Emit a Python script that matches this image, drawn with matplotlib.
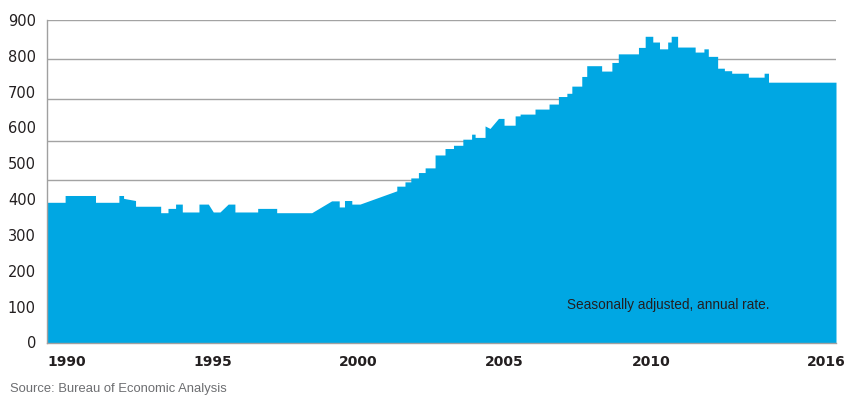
import numpy as np
import matplotlib
matplotlib.use("Agg")
import matplotlib.pyplot as plt

# Outline of the area: each segment runs from breaks[i] to breaks[i+1],
# going from v_start[i] to v_end[i] (flat when both are equal)
breaks = [1990.00, 1990.62, 1991.66, 1992.46, 1992.62, 1993.03, 1993.89, 1994.14,
          1994.40, 1994.63, 1995.20, 1995.52, 1995.69, 1995.92, 1996.20, 1996.43,
          1997.21, 1997.86, 1999.06, 1999.74, 2000.00, 2000.18, 2000.43, 2000.71,
          2001.97, 2002.25, 2002.45, 2002.71, 2002.94, 2003.28, 2003.62, 2003.91,
          2004.23, 2004.53, 2004.65, 2004.99, 2005.16, 2005.45, 2005.64, 2006.02,
          2006.19, 2006.70, 2007.18, 2007.50, 2007.79, 2007.96, 2008.30, 2008.47,
          2008.98, 2009.33, 2009.55, 2010.24, 2010.47, 2010.73, 2010.96, 2011.24,
          2011.36, 2011.58, 2012.18, 2012.48, 2012.63, 2012.95, 2013.18, 2013.43,
          2014.00, 2014.54, 2014.69, 2017.00]
v_start = [391, 410, 391, 410, 402, 380, 362, 374,
           386, 364, 386, 386, 364, 364, 386, 364,
           374, 362, 362, 395, 378, 396, 386, 386,
           436, 448, 459, 474, 487, 523, 541, 550,
           567, 581, 572, 604, 597, 625, 606, 632,
           637, 651, 665, 686, 695, 715, 742, 772,
           757, 781, 805, 823, 854, 838, 819, 838,
           854, 824, 810, 819, 798, 765, 758, 751,
           740, 751, 726]
v_end = [391, 410, 391, 410, 396, 380, 362, 374,
         386, 364, 386, 364, 364, 386, 386, 364,
         374, 362, 395, 395, 378, 396, 386, 423,
         436, 448, 459, 474, 487, 523, 541, 550,
         567, 581, 572, 597, 625, 625, 606, 632,
         637, 651, 665, 686, 695, 715, 742, 772,
         757, 781, 805, 823, 854, 838, 819, 838,
         854, 824, 810, 819, 798, 765, 758, 751,
         740, 751, 726]

year_ticks = [1990, 1995, 2000, 2005, 2010, 2016]
value_ticks = [0, 100, 200, 300, 400, 500, 600, 700, 800, 900]
grid_levels = [452, 561, 679, 790, 900]  # gridlines as drawn in the original

note = "Seasonally adjusted, annual rate."
source = "Source: Bureau of Economic Analysis"

xs = np.repeat(breaks, 2)[1:-1]
ys = np.column_stack([v_start, v_end]).ravel()

fig = plt.figure(figsize=(8.46, 3.98), dpi=100)
ax = fig.add_axes([47 / 846, 55.5 / 398, 789 / 846, 322.7 / 398])

for g in grid_levels:
    ax.axhline(g, color="#a3a3a3", lw=1.0, zorder=0.5)

ax.fill_between(xs, ys, 0, color="#00a7e3", lw=0, zorder=1)

ax.set_xlim(1990, 2017)
ax.set_ylim(0, 900)

ax.set_yticks(value_ticks)
ax.set_yticklabels([str(v) for v in value_ticks], fontsize=10.5, color="#231f20")
ax.set_xticks(year_ticks)
ax.set_xticklabels([str(y) for y in year_ticks], fontsize=10, fontweight="bold",
                   color="#231f20", ha="left")
ax.tick_params(axis="y", length=0, pad=8)
ax.tick_params(axis="x", length=0, pad=9)

for s in ["top", "right"]:
    ax.spines[s].set_visible(False)
for s in ["left", "bottom"]:
    ax.spines[s].set_color("#a0a0a0")
    ax.spines[s].set_linewidth(1.0)
    ax.spines[s].set_zorder(3)

ax.text(2011.25, 105, note, ha="center", va="center", fontsize=9.8,
        color="#231f20", family=["Liberation Sans", "DejaVu Sans"], zorder=4)
fig.text(10 / 846, 1 - 389 / 398, source, ha="left", va="center", fontsize=9.4,
         color="#6d6e71", family=["Liberation Sans", "DejaVu Sans"])

fig.savefig("out.png", dpi=100)
